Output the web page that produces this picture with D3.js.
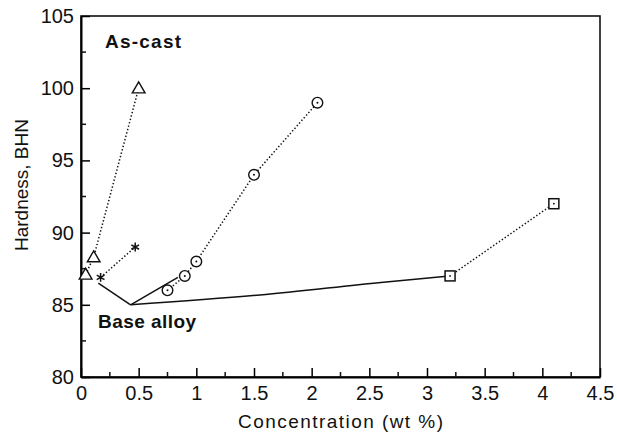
<!DOCTYPE html>
<html lang="en">
<head>
<meta charset="UTF-8">
<title>Hardness vs concentration</title>
<script src="https://cdn.jsdelivr.net/npm/d3@7"></script>
<style>
    body { margin:0; background:#fff; }
    text { font-family:"Liberation Sans", Arial, sans-serif; fill:#111; }
</style>
</head>
<body>
<svg width="617" height="435"></svg>
<script>
    // data
    var triX = [0.04, 0.11, 0.5],  triY = [87.1, 88.3, 100];
    var starX = [0.17, 0.47],      starY = [86.9, 89];
    var circX = [0.75, 0.9, 1.0, 1.5, 2.05], circY = [86, 87, 88, 94, 99];
    var sqX = [3.2, 4.1],          sqY = [87, 92];
    var base = [0.43, 85];
    var baseCurve = [[0.43, 85], [1.55, 85.68], [2.6, 86.55], [3.2, 87]];
    var xTicks = [0, 0.5, 1, 1.5, 2, 2.5, 3, 3.5, 4, 4.5];
    var yTicks = [80, 85, 90, 95, 100, 105];

    var svg = d3.select("svg");
    var mLeft = 81, mRight = 600, mTop = 16, mBottom = 377;

    var x = d3.scaleLinear().domain([0, 4.5]).range([mLeft, mRight]);
    var y = d3.scaleLinear().domain([80, 105]).range([mBottom, mTop]);

    // frame
    svg.append("rect").attr("x", mLeft).attr("y", mTop)
        .attr("width", mRight - mLeft).attr("height", mBottom - mTop)
        .attr("fill", "none").attr("stroke", "#111").attr("stroke-width", 1.6);

    // axes (ticks inward)
    var xAxis = d3.axisBottom(x).tickValues(xTicks).tickSizeInner(-9).tickSizeOuter(0)
        .tickFormat(function(d){ return d3.format("")(d); });
    var gx = svg.append("g").attr("transform", "translate(0," + mBottom + ")").call(xAxis);
    gx.attr("font-size", null).attr("font-family", null);
    gx.select(".domain").attr("stroke-width", 2);
    gx.selectAll("line").attr("stroke-width", 1.5);
    gx.selectAll("text").attr("y", 23).attr("dy", null).style("font-size", "20px");
    gx.selectAll(".minor").data(d3.range(0.25, 4.5, 0.5)).enter().append("line")
        .attr("x1", d => x(d)).attr("x2", d => x(d)).attr("y1", 0).attr("y2", -5)
        .attr("stroke", "#111").attr("stroke-width", 1.5);

    var yAxis = d3.axisLeft(y).tickValues(yTicks).tickSizeInner(-9).tickSizeOuter(0);
    var gy = svg.append("g").attr("transform", "translate(" + mLeft + ",0)").call(yAxis);
    gy.attr("font-size", null).attr("font-family", null);
    gy.select(".domain").attr("stroke-width", 2);
    gy.selectAll("line").attr("stroke-width", 1.5);
    gy.selectAll("text").attr("x", -7).style("font-size", "20px");
    gy.selectAll(".minor").data(d3.range(82.5, 105, 5)).enter().append("line")
        .attr("y1", d => y(d)).attr("y2", d => y(d)).attr("x1", 0).attr("x2", 5)
        .attr("stroke", "#111").attr("stroke-width", 1.5);
    gx.selectAll(".tick text").attr("fill", "#111");
    gy.selectAll(".tick text").attr("fill", "#111");

    // axis titles
    svg.append("text").attr("x", 238).attr("y", 428)
        .attr("textLength", 205).attr("lengthAdjust", "spacing")
        .style("font-size", "19px").text("Concentration (wt %)");
    svg.append("text").attr("transform", "translate(28," + 185 + ") rotate(-90)")
        .attr("text-anchor", "middle").style("font-size", "19px").text("Hardness, BHN");

    svg.append("text").attr("x", 105).attr("y", 48).style("font-size", "19px")
        .attr("textLength", 76).attr("lengthAdjust", "spacing")
        .attr("font-weight", "bold").text("As-cast");
    svg.append("text").attr("x", 98).attr("y", 328).style("font-size", "19px")
        .attr("textLength", 98).attr("lengthAdjust", "spacing")
        .attr("font-weight", "bold").text("Base alloy");

    var line = d3.line().x(d => x(d[0])).y(d => y(d[1]));
    function pts(xs, ys) { return xs.map(function(v, i){ return [v, ys[i]]; }); }

    // dotted series
    [[triX, triY], [starX, starY], [circX, circY], [sqX, sqY]].forEach(function(s){
        svg.append("path").attr("d", line(pts(s[0], s[1])))
            .attr("fill", "none").attr("stroke", "#111").attr("stroke-width", 1.5)
            .attr("stroke-dasharray", "1.4,2.1");
    });

    // solid leader lines from base alloy
    svg.append("path").attr("d", line([[0.15, 86.5], base]))
        .attr("fill", "none").attr("stroke", "#111").attr("stroke-width", 1.5);
    svg.append("path").attr("d", line([base, [0.84, 86.9]]))
        .attr("fill", "none").attr("stroke", "#111").attr("stroke-width", 1.5);
    svg.append("path").attr("d", line.curve(d3.curveMonotoneX)(baseCurve))
        .attr("fill", "none").attr("stroke", "#111").attr("stroke-width", 1.5);
    line.curve(d3.curveLinear);

    // markers
    var tri = d3.symbol().type(d3.symbolTriangle).size(70);
    svg.selectAll(".tri").data(pts(triX, triY)).enter().append("path")
        .attr("transform", d => "translate(" + x(d[0]) + "," + (y(d[1]) + 1) + ")")
        .attr("d", tri).attr("fill", "#fff").attr("stroke", "#111").attr("stroke-width", 1.4);

    svg.selectAll(".circ").data(pts(circX, circY)).enter().append("circle")
        .attr("cx", d => x(d[0])).attr("cy", d => y(d[1])).attr("r", 5.3)
        .attr("fill", "#fff").attr("stroke", "#111").attr("stroke-width", 1.4);
    svg.selectAll(".cdot").data(pts(circX, circY)).enter().append("circle")
        .attr("cx", d => x(d[0])).attr("cy", d => y(d[1])).attr("r", 1).attr("fill", "#111");

    svg.selectAll(".sq").data(pts(sqX, sqY)).enter().append("rect")
        .attr("x", d => x(d[0]) - 5).attr("y", d => y(d[1]) - 5)
        .attr("width", 10).attr("height", 10)
        .attr("fill", "#fff").attr("stroke", "#111").attr("stroke-width", 1.5);
    svg.selectAll(".sdot").data(pts(sqX, sqY)).enter().append("circle")
        .attr("cx", d => x(d[0])).attr("cy", d => y(d[1])).attr("r", 0.9).attr("fill", "#111");

    var star = d3.symbol().type(d3.symbolAsterisk).size(55);
    svg.selectAll(".star").data(pts(starX, starY)).enter().append("path")
        .attr("transform", d => "translate(" + x(d[0]) + "," + y(d[1]) + ")")
        .attr("d", star).attr("fill", "none").attr("stroke", "#111").attr("stroke-width", 1.5);
</script>
</body>
</html>
